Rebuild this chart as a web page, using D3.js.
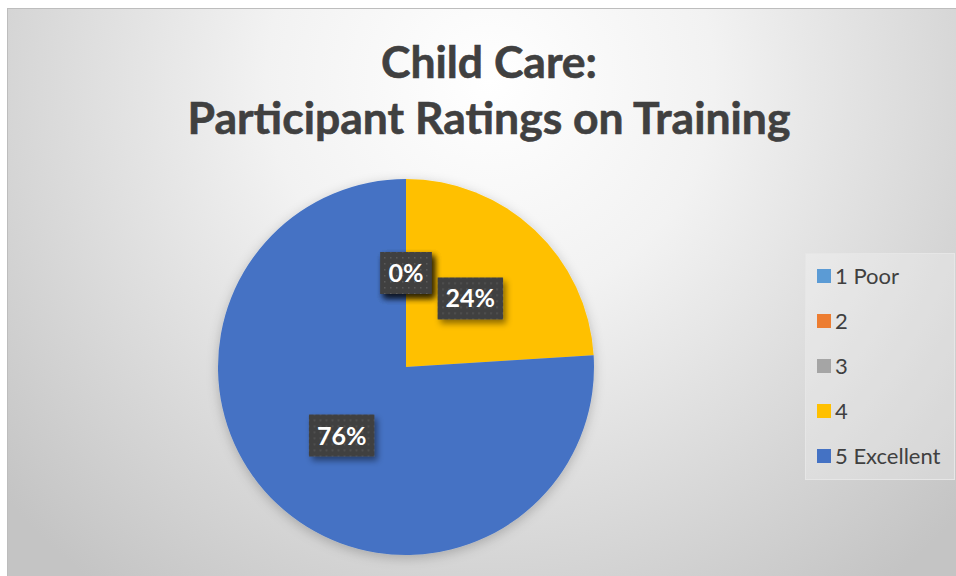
<!DOCTYPE html>
<html>
<head>
<meta charset="utf-8">
<script src="https://cdn.jsdelivr.net/npm/d3@7"></script>
<style>
  html, body { margin: 0; padding: 0; background: #ffffff; }
  svg { display: block; }
</style>
</head>
<body>
<svg id="chart" width="956" height="576"></svg>
<script>
// ---- data ----
const categories = ["1 Poor", "2", "3", "4", "5 Excellent"];
const values = [0, 0, 0, 6, 19];
const colors = ["#5B9BD5", "#ED7D31", "#A5A5A5", "#FFC000", "#4472C4"];
const titleLines = ["Child Care:", "Participant Ratings on Training"];

const svg = d3.select("#chart");
const defs = svg.append("defs");

// background gradient
const bg = defs.append("radialGradient").attr("id", "bgGrad")
  .attr("gradientUnits", "userSpaceOnUse")
  .attr("cx", 490).attr("cy", 80).attr("r", 640);
bg.append("stop").attr("offset", "0%").attr("stop-color", "#ffffff");
bg.append("stop").attr("offset", "35%").attr("stop-color", "#f2f2f2");
bg.append("stop").attr("offset", "100%").attr("stop-color", "#c4c4c4");

// dotted pattern for label boxes
const pat = defs.append("pattern").attr("id", "dots")
  .attr("patternUnits", "userSpaceOnUse").attr("width", 6).attr("height", 6);
pat.append("rect").attr("width", 6).attr("height", 6).attr("fill", "#404040");
pat.append("rect").attr("x", 2).attr("y", 2).attr("width", 1.5).attr("height", 1.5).attr("fill", "#5a5a5a");

const sh = defs.append("filter").attr("id", "boxShadow")
  .attr("x", "-30%").attr("y", "-30%").attr("width", "170%").attr("height", "170%");
sh.append("feDropShadow").attr("dx", 3).attr("dy", 4).attr("stdDeviation", 3)
  .attr("flood-color", "#000").attr("flood-opacity", 0.45);

const psh = defs.append("filter").attr("id", "pieShadow")
  .attr("x", "-20%").attr("y", "-20%").attr("width", "140%").attr("height", "140%");
psh.append("feDropShadow").attr("dx", 0).attr("dy", 3).attr("stdDeviation", 6)
  .attr("flood-color", "#000").attr("flood-opacity", 0.22);

// chart area
svg.append("rect").attr("x", 7.5).attr("y", 8.5).attr("width", 960).attr("height", 580)
  .attr("fill", "url(#bgGrad)").attr("stroke", "#bdbdbd").attr("stroke-width", 1);

// title
const titleG = svg.append("g").attr("font-family", "Lato, 'Open Sans', sans-serif")
  .attr("font-weight", "bold").attr("fill", "#404040").attr("text-anchor", "middle")
  .attr("stroke", "#404040").attr("stroke-width", 0.6);
const t2 = titleG.append("text").attr("x", 489).attr("y", 134).attr("font-size", 40).text(titleLines[1]);
const w2 = t2.node().getComputedTextLength();
const fs = 40 * 603 / w2;
t2.attr("font-size", fs);
titleG.append("text").attr("x", 489).attr("y", 78).attr("font-size", fs).text(titleLines[0]);

// pie
const cx = 406, cy = 367, R = 188;
const pie = d3.pie().sort(null).value(d => d.v);
const data = categories.map((c, i) => ({ c, v: values[i], col: colors[i] }));
const arcs = pie(data);
const arc = d3.arc().innerRadius(0).outerRadius(R);
const total = d3.sum(values);

const pieG = svg.append("g").attr("transform", `translate(${cx},${cy})`);
pieG.append("g").attr("filter", "url(#pieShadow)")
  .selectAll("path").data(arcs).join("path")
  .attr("d", arc).attr("fill", d => d.data.col);

// labels
const labelArc = d3.arc().innerRadius(R * 0.5).outerRadius(R * 0.5);
const labG = pieG.append("g");
arcs.forEach(d => {
  const [x, y] = labelArc.centroid(d);
  const g = labG.append("g").attr("transform", `translate(${x},${y})`);
  const rect = g.append("rect").attr("fill", "url(#dots)").attr("filter", "url(#boxShadow)");
  const txt = g.append("text").attr("text-anchor", "middle").attr("dy", "0.36em")
    .attr("font-family", "Lato, 'Open Sans', sans-serif").attr("font-weight", "bold")
    .attr("font-size", 25).attr("fill", "#ffffff")
    .text(d3.format(".0%")(d.data.v / total));
  const tw = txt.node().getComputedTextLength();
  const bw = tw + 16, bh = 42;
  rect.attr("x", -bw / 2).attr("y", -bh / 2).attr("width", bw).attr("height", bh);
});

// legend
const legG = svg.append("g");
legG.append("rect").attr("x", 805.5).attr("y", 253.5).attr("width", 149).attr("height", 226)
  .attr("fill", "#ffffff").attr("fill-opacity", 0.25).attr("stroke", "#e6e6e6");
const ly = d3.scalePoint().domain(categories).range([276, 456]);
categories.forEach((c, i) => {
  legG.append("rect").attr("x", 817).attr("y", ly(c) - 7).attr("width", 14).attr("height", 14)
    .attr("fill", colors[i]);
  legG.append("text").attr("x", 835).attr("y", ly(c)).attr("dy", "0.35em")
    .attr("font-family", "Lato, 'Open Sans', sans-serif").attr("font-size", 22)
    .attr("fill", "#404040").text(c);
});
</script>
</body>
</html>
